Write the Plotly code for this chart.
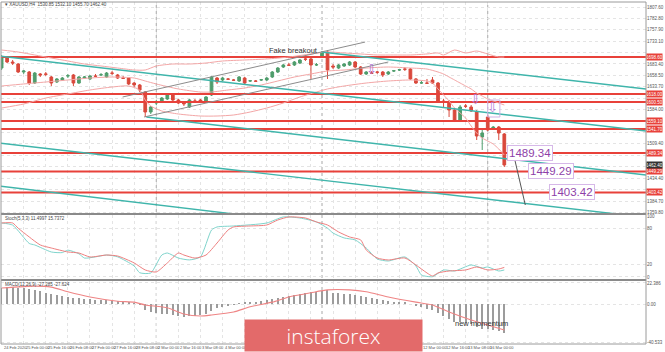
import plotly.graph_objects as go

# ---------------- DATA ----------------
bars = list(range(92))
opens = [1674.6, 1696.4, 1687.7, 1683.3, 1665.9, 1665.9, 1641.9, 1661.6, 1661.6, 1655.0,
         1644.1, 1648.5, 1657.2, 1659.4, 1641.9, 1652.8, 1650.7, 1657.2, 1659.4, 1655.0,
         1663.7, 1659.4, 1652.8, 1652.8, 1641.9, 1637.6, 1622.3, 1578.7, 1598.3, 1600.5,
         1607.1, 1618.0, 1604.9, 1600.5, 1589.6, 1602.7, 1604.9, 1602.7, 1615.8, 1652.8,
         1648.5, 1650.7, 1648.5, 1646.3, 1652.8, 1646.3, 1646.3, 1648.5, 1648.5, 1655.0,
         1665.9, 1676.8, 1681.2, 1681.2, 1685.5, 1694.3, 1694.3, 1681.2, 1698.6, 1709.5,
         1679.0, 1674.6, 1679.0, 1681.2, 1687.7, 1676.8, 1661.6, 1663.7, 1665.9, 1665.9,
         1661.6, 1668.1, 1670.3, 1672.4, 1672.4, 1650.7, 1641.9, 1641.9, 1648.5, 1641.9,
         1602.7, 1600.5, 1583.1, 1559.1, 1591.8, 1589.6, 1578.7, 1524.2, 1567.8, 1541.7,
         1546.0, 1530.8]
highs = [1703.0, 1700.8, 1692.1, 1685.5, 1670.3, 1668.1, 1665.9, 1663.7, 1665.9, 1657.2,
         1652.8, 1655.0, 1661.6, 1661.6, 1657.2, 1657.2, 1659.4, 1661.6, 1663.7, 1665.9,
         1668.1, 1661.6, 1657.2, 1655.0, 1644.1, 1639.8, 1624.5, 1591.8, 1604.9, 1611.4,
         1620.1, 1620.1, 1607.1, 1602.7, 1607.1, 1607.1, 1607.1, 1613.6, 1657.2, 1655.0,
         1655.0, 1652.8, 1650.7, 1657.2, 1655.0, 1648.5, 1648.5, 1650.7, 1655.0, 1668.1,
         1676.8, 1683.3, 1685.5, 1689.9, 1694.3, 1696.4, 1698.6, 1685.5, 1711.7, 1713.9,
         1683.3, 1683.3, 1685.5, 1689.9, 1689.9, 1679.0, 1668.1, 1668.1, 1668.1, 1668.1,
         1668.1, 1670.3, 1672.4, 1676.8, 1674.6, 1652.8, 1646.3, 1650.7, 1655.0, 1644.1,
         1607.1, 1604.9, 1587.4, 1594.0, 1596.2, 1594.0, 1583.1, 1539.5, 1572.2, 1548.2,
         1548.2, 1532.9]
lows = [1670.3, 1685.5, 1681.2, 1663.7, 1661.6, 1637.6, 1639.8, 1655.0, 1657.2, 1635.4,
        1641.9, 1646.3, 1652.8, 1635.4, 1639.8, 1650.7, 1648.5, 1655.0, 1657.2, 1652.8,
        1659.4, 1650.7, 1650.7, 1637.6, 1633.2, 1622.3, 1567.8, 1574.4, 1594.0, 1598.3,
        1604.9, 1602.7, 1596.2, 1591.8, 1587.4, 1600.5, 1598.3, 1600.5, 1613.6, 1639.8,
        1646.3, 1648.5, 1646.3, 1644.1, 1639.8, 1644.1, 1644.1, 1646.3, 1646.3, 1652.8,
        1663.7, 1674.6, 1679.0, 1679.0, 1683.3, 1689.9, 1650.7, 1679.0, 1696.4, 1650.7,
        1672.4, 1672.4, 1676.8, 1679.0, 1674.6, 1659.4, 1659.4, 1661.6, 1661.6, 1655.0,
        1659.4, 1665.9, 1668.1, 1668.1, 1648.5, 1639.8, 1639.8, 1639.8, 1639.8, 1600.5,
        1587.4, 1567.8, 1556.9, 1556.9, 1587.4, 1578.7, 1517.7, 1495.9, 1537.3, 1539.5,
        1517.7, 1458.8]
closes = [1698.6, 1687.7, 1685.5, 1665.9, 1668.1, 1641.9, 1663.7, 1659.4, 1661.0, 1641.9,
          1650.7, 1652.8, 1657.8, 1641.9, 1655.0, 1655.0, 1657.2, 1656.6, 1660.0, 1663.7,
          1663.1, 1652.8, 1652.2, 1639.8, 1637.6, 1626.7, 1578.7, 1589.6, 1600.5, 1609.2,
          1618.0, 1604.9, 1598.3, 1596.2, 1604.9, 1602.2, 1600.5, 1611.4, 1655.0, 1644.1,
          1652.8, 1650.2, 1648.0, 1655.0, 1641.9, 1646.8, 1645.8, 1649.0, 1652.8, 1665.9,
          1674.6, 1681.2, 1680.6, 1687.7, 1692.1, 1693.7, 1681.2, 1681.8, 1707.4, 1670.3,
          1676.8, 1681.2, 1683.3, 1687.7, 1676.8, 1661.6, 1665.9, 1663.2, 1665.4, 1659.4,
          1665.9, 1668.6, 1670.8, 1672.0, 1650.7, 1641.9, 1642.4, 1641.4, 1641.9, 1602.7,
          1600.5, 1583.1, 1559.1, 1589.6, 1591.3, 1580.9, 1526.4, 1532.9, 1539.5, 1546.0,
          1532.9, 1463.2]

bb_upper_bars = [0, 3, 6, 9, 12, 15, 18, 21, 24, 26, 28, 31, 34, 37, 40, 44, 48, 52, 56, 59,
                 62, 65, 68, 71, 74, 77, 79, 80, 82, 84, 86, 88, 90, 91]
bb_upper = [1713.9, 1709.5, 1703.0, 1696.4, 1689.9, 1683.3, 1679.0, 1674.6, 1670.3, 1670.3,
            1679.0, 1683.3, 1683.3, 1685.5, 1689.9, 1692.1, 1694.3, 1698.6, 1705.2, 1709.5,
            1707.4, 1705.2, 1703.0, 1703.0, 1703.0, 1705.2, 1707.4, 1703.0, 1713.9, 1707.4,
            1711.7, 1705.2, 1698.6, 1698.6]
bb_mid_bars = [0, 4, 8, 12, 16, 20, 24, 26, 28, 32, 36, 38, 41, 44, 47, 50, 53, 56, 59, 62,
               66, 70, 74, 77, 79, 80, 81, 82, 83, 84, 85, 86, 87, 88, 89, 90, 91]
bb_mid = [1635.4, 1639.8, 1644.1, 1648.5, 1652.8, 1655.0, 1652.8, 1646.3, 1639.8, 1628.9,
          1622.3, 1622.3, 1626.7, 1631.0, 1637.6, 1646.3, 1655.0, 1661.6, 1668.1, 1670.3,
          1674.6, 1676.8, 1674.6, 1672.4, 1665.9, 1661.6, 1655.0, 1648.5, 1641.9, 1635.4,
          1628.9, 1620.1, 1613.6, 1607.1, 1602.7, 1598.3, 1594.0]
bb_lower_bars = [0, 4, 8, 12, 16, 20, 23, 25, 26, 27, 29, 32, 36, 39, 42, 45, 48, 51, 54, 57,
                 59, 62, 66, 70, 74, 77, 78, 79, 80, 81, 82, 83, 84, 85, 86, 87, 88, 89, 90, 91]
bb_lower = [1587.4, 1596.2, 1609.2, 1618.0, 1626.7, 1633.2, 1635.4, 1626.7, 1604.9, 1591.8,
            1580.9, 1574.4, 1570.0, 1570.0, 1572.2, 1578.7, 1587.4, 1598.3, 1611.4, 1622.3,
            1628.9, 1635.4, 1641.9, 1646.3, 1648.5, 1646.3, 1641.9, 1628.9, 1615.8, 1602.7,
            1587.4, 1576.6, 1565.6, 1548.2, 1532.9, 1522.0, 1515.5, 1508.9, 1498.1, 1485.0]

stoch_k_bars = [0, 2, 5, 6, 9, 11, 12, 14, 15, 17, 19, 21, 24, 25, 27, 29, 30, 32, 34, 36, 38, 39,
                42, 48, 51, 54, 57, 59, 60, 62, 64, 66, 68, 70, 73, 75, 76, 78, 80, 82, 85, 87,
                88, 90, 91]
stoch_k = [88.5, 85.0, 55.0, 52.5, 41.0, 40.0, 44.0, 38.0, 31.0, 33.0, 36.0, 33.0, 18.0, 7.0,
           6.6, 36.0, 39.3, 31.0, 28.0, 33.0, 77.0, 82.0, 83.6, 88.5, 98.4, 96.7, 90.2, 80.0,
           72.0, 64.0, 60.7, 47.5, 29.5, 26.2, 32.8, 18.0, 3.3, 0.5, 11.5, 9.8, 19.7, 14.8,
           16.4, 9.8, 11.5]
stoch_d_bars = [0, 2, 3, 5, 7, 9, 12, 14, 16, 19, 21, 24, 26, 28, 30, 32, 33, 35, 37, 39, 41, 42,
                45, 48, 50, 52, 55, 57, 59, 61, 63, 65, 66, 68, 70, 73, 75, 77, 78, 79, 81, 84,
                86, 88, 90, 91]
stoch_d = [88.5, 88.5, 80.0, 65.6, 52.5, 47.5, 41.0, 39.3, 32.8, 36.0, 34.4, 23.0, 11.5, 8.2,
           23.0, 39.3, 36.0, 31.0, 36.0, 55.7, 77.0, 82.0, 83.6, 85.2, 93.4, 98.4, 96.7, 90.2,
           85.2, 73.8, 65.6, 60.7, 44.3, 31.1, 27.9, 31.1, 19.7, 6.6, 1.6, 6.6, 9.8, 11.5,
           16.4, 11.5, 13.1, 15.7]

macd_hist = [17, 18, 18, 17.5, 17, 16.5, 15, 13.5, 12, 11, 9.5, 8, 7, 6.5, 6, 5.5, 5, 4.5, 4, 4,
             3.5, 3, 2.5, 2, 1, -0.5, -6, -8.5, -9.5, -10.5, -11, -12, -13, -13.5, -13, -12.5,
             -12, -11, -7, -4.5, -3, -2, -1, 0.5, 1.5, 2, 2.5, 3, 4, 5, 6.5, 7.5, 8.5, 9.5, 11,
             12, 12.5, 13, 14, 14.5, 12, 11.5, 11, 10.5, 10, 8.5, 7, 6, 5, 4, 3, 2.5, 2, 1.5, 0,
             -2, -3.5, -5, -6, -10, -13, -16, -19, -19.5, -20, -21, -25, -26.5, -27, -27.5,
             -28.5, -31]
macd_sig_bars = [0, 6, 9, 12, 16, 21, 24, 26, 30, 33, 36, 38, 42, 45, 49, 52, 56, 59, 63, 66, 70,
                 75, 78, 81, 85, 88, 91]
macd_sig = [17, 19, 18, 13, 7.5, 3, 2, -1, -4, -10.7, -12.8, -11.7, -8.5, -3, 2, 7.5, 12, 15,
            15, 13, 7.5, 2, -1, -8.5, -17, -22.4, -27.7]

red_levels = [1698.6, 1618.0, 1600.5, 1559.1, 1541.7, 1489.34, 1449.29, 1403.42]
current_price = 1462.4
level_labels = ["1489.34", "1449.29", "1403.42"]
level_label_bars = [95.6, 99.4, 103.3]
level_label_prices = [1489.34, 1449.29, 1403.42]

# channel lines: (bar0, price0, bar1, price1)
teal_lines = [(-0.5, 1700.8, 116.7, 1537.3),
              (57.9, 1709.5, 116.7, 1628.9),
              (26.2, 1567.8, 116.7, 1441.4),
              (-0.5, 1511.1, 116.7, 1349.0),
              (-0.5, 1417.4, 50.0, 1345.0)]
grey_lines = [(21.9, 1611.4, 65.8, 1731.2),
              (25.8, 1567.8, 70.0, 1687.7)]
proj_line_bars = [92.7, 94.8]
proj_line_prices = [1485.0, 1376.0]
arrow_bars = [66.9, 85.8, 88.9]
arrow_prices = [1671.5, 1606.0, 1588.5]
arrow_box = (88.0, 1567.8, 90.2, 1604.9)

price_ticks = [1807.6, 1782.8, 1757.9, 1733.1, 1708.2, 1683.4, 1658.5, 1633.7, 1608.8, 1584.0,
               1559.1, 1534.2, 1509.4, 1484.5, 1459.7, 1434.4, 1409.5, 1384.7, 1359.8]
week_separators = [28, 58, 88]
time_tick_bars = list(range(0, 92, 4))
time_tick_text = ["24 Feb 2020", "25 Feb 00:00", "25 Feb 16:00", "26 Feb 08:00", "27 Feb 00:00",
                  "27 Feb 16:00", "28 Feb 08:00", "2 Mar 00:00", "2 Mar 16:00", "3 Mar 08:00",
                  "4 Mar 00:00", "4 Mar 16:00", "5 Mar 08:00", "6 Mar 00:00", "6 Mar 16:00",
                  "9 Mar 08:00", "10 Mar 00:00", "10 Mar 16:00", "11 Mar 08:00", "12 Mar 00:00",
                  "12 Mar 16:00", "13 Mar 08:00", "16 Mar 00:00"]
hidden_time_labels = list(range(11, 19))   # covered by the logo

# ---------------- LAYOUT GEOMETRY ----------------
W, H = 665, 352
PL, PR, PT, PB = 1, 649, 2, 344
BAR_PX = 5.55
x_lo = -0.6 / BAR_PX
x_hi = x_lo + (PR - PL) / BAR_PX
Y_LO, Y_HI = 1356.4, 1818.5
MAIN_TOP, MAIN_BOT = 2, 214


def py(p):  # pixel y -> paper y
    return (PB - p) / (PB - PT)


def pxx(p):  # pixel x -> paper x
    return (p - PL) / (PR - PL)


def price_px(v):  # price -> pixel y of main panel (for label de-cluttering only)
    return MAIN_TOP + (Y_HI - v) / (Y_HI - Y_LO) * (MAIN_BOT - MAIN_TOP)


GREEN = "#4f9d6c"
RED = "#d9493c"
BB = "#f3a6a6"
TEAL = "#3fb5ab"
LEVEL = "#e8413a"
GRID = "#e4e4e4"
FONT = "Liberation Sans"

fig = go.Figure()
common = dict(hoverinfo="skip", showlegend=False)

# red horizontal levels (as traces spanning the full width)
for lv in red_levels:
    fig.add_trace(go.Scatter(x=[x_lo - 1, x_hi + 1], y=[lv, lv], mode="lines",
                             line=dict(color=LEVEL, width=2), xaxis="x", yaxis="y", **common))

# Bollinger bands
for bx, by in [(bb_upper_bars, bb_upper), (bb_mid_bars, bb_mid), (bb_lower_bars, bb_lower)]:
    fig.add_trace(go.Scatter(x=bx, y=by, mode="lines",
                             line=dict(color=BB, width=1, shape="spline", smoothing=0.7),
                             xaxis="x", yaxis="y", **common))

# channel lines
for (b0, p0, b1, p1) in teal_lines:
    fig.add_trace(go.Scatter(x=[b0, b1], y=[p0, p1], mode="lines",
                             line=dict(color=TEAL, width=1.4), xaxis="x", yaxis="y", **common))
for (b0, p0, b1, p1) in grey_lines:
    fig.add_trace(go.Scatter(x=[b0, b1], y=[p0, p1], mode="lines",
                             line=dict(color="#8c8c8c", width=1), xaxis="x", yaxis="y", **common))

# candles
fig.add_trace(go.Candlestick(x=bars, open=opens, high=highs, low=lows, close=closes,
                             increasing=dict(line=dict(color=GREEN, width=1), fillcolor=GREEN),
                             decreasing=dict(line=dict(color=RED, width=1), fillcolor=RED),
                             whiskerwidth=0, xaxis="x", yaxis="y", **common))

fig.add_trace(go.Scatter(x=proj_line_bars, y=proj_line_prices, mode="lines",
                         line=dict(color="#555555", width=1), xaxis="x", yaxis="y", **common))

# stochastic
fig.add_trace(go.Scatter(x=stoch_k_bars, y=stoch_k, mode="lines",
                         line=dict(color="#7fd4cc", width=1, shape="spline", smoothing=0.6),
                         xaxis="x2", yaxis="y2", **common))
fig.add_trace(go.Scatter(x=stoch_d_bars, y=stoch_d, mode="lines",
                         line=dict(color="#ee8080", width=1, shape="spline", smoothing=0.6),
                         xaxis="x2", yaxis="y2", **common))

# MACD
fig.add_trace(go.Bar(x=bars, y=macd_hist, width=0.22, marker=dict(color="#9c9c9c", line=dict(width=0)),
                     xaxis="x3", yaxis="y3", **common))
fig.add_trace(go.Scatter(x=macd_sig_bars, y=macd_sig, mode="lines",
                         line=dict(color="#ef8585", width=1.1, shape="spline", smoothing=0.6),
                         xaxis="x3", yaxis="y3", **common))

shapes = []
for ws in week_separators:
    shapes.append(dict(type="line", xref="x", yref="paper", x0=ws, x1=ws, y0=0, y1=1,
                       line=dict(color="#a8a8a8", width=1, dash="dot"), layer="below"))
# arrow box
shapes.append(dict(type="rect", xref="x", yref="y", x0=arrow_box[0], x1=arrow_box[2],
                   y0=arrow_box[1], y1=arrow_box[3], line=dict(color="#cfb3e6", width=1)))
# panel separators & frame
for yy in [214, 280]:
    shapes.append(dict(type="line", xref="paper", yref="paper", x0=0, x1=1, y0=py(yy), y1=py(yy),
                       line=dict(color="#8a8a8a", width=2)))
shapes.append(dict(type="rect", xref="paper", yref="paper", x0=0, x1=1, y0=0, y1=1,
                   line=dict(color="#9a9a9a", width=1)))

ann = []
small = dict(family=FONT, size=4.5, color="#444444")
ann.append(dict(xref="paper", yref="paper", x=pxx(3), y=py(4.5), xanchor="left", yanchor="middle",
                text="▾ XAUUSD,H4  1530.85 1532.10 1455.70 1462.40", showarrow=False, font=small))
ann.append(dict(xref="paper", yref="paper", x=pxx(3), y=py(218), xanchor="left", yanchor="middle",
                text="Stoch(5,3,3) 11.4997 15.7372", showarrow=False, font=small))
ann.append(dict(xref="paper", yref="paper", x=pxx(3), y=py(284), xanchor="left", yanchor="middle",
                text="MACD(12,26,9) -27.285 -27.624", showarrow=False, font=small))
ann.append(dict(xref="x", yref="y", x=52.9, y=1712.0, text="Fake breakout", showarrow=False,
                font=dict(family=FONT, size=7.5, color="#333333")))
ann.append(dict(xref="x", yref="y3", x=86.9, y=-20.5, text="new momentum", showarrow=False,
                font=dict(family=FONT, size=7.5, color="#333333")))
for t, b, p in zip(level_labels, level_label_bars, level_label_prices):
    ann.append(dict(xref="x", yref="y", x=b, y=p, text=t, showarrow=False,
                    font=dict(family=FONT, size=11.5, color="#8e3fa8"),
                    bgcolor="white", bordercolor="#d6b8e8", borderwidth=1, borderpad=1))
for b, p in zip(arrow_bars, arrow_prices):
    ann.append(dict(xref="x", yref="y", x=b, y=p, text="⇩", showarrow=False,
                    font=dict(family="DejaVu Sans", size=13, color="#b074d4")))
box_prices = red_levels + [current_price]
box_colors = [LEVEL] * len(red_levels) + ["#333333"]
for lv, col in zip(box_prices, box_colors):
    ann.append(dict(xref="paper", yref="y", x=1.0, y=lv, xanchor="left", yanchor="middle",
                    text=f"{lv:.2f}", showarrow=False, width=15, height=6, borderpad=0,
                    bgcolor=col, font=dict(family=FONT, size=4.5, color="white")))
for i, (b, t) in enumerate(zip(time_tick_bars, time_tick_text)):
    if i in hidden_time_labels:
        continue
    ann.append(dict(xref="x", yref="paper", x=b, y=py(347.5), xanchor="left", yanchor="middle",
                    text=t, showarrow=False, font=dict(family=FONT, size=4, color="#555555")))
# logo badge
ann.append(dict(xref="paper", yref="paper", x=pxx(245), y=py(352), xanchor="left", yanchor="bottom",
                width=177, height=31, borderpad=0, bgcolor="#e36a6a", text="instaforex",
                showarrow=False, font=dict(family="Open Sans", size=21, color="white", weight=300)))

# axis price labels hidden behind the coloured price boxes (as in the terminal)
tick_text = []
for v in price_ticks:
    covered = any(abs(price_px(v) - price_px(b)) < 6 for b in box_prices)
    tick_text.append("" if covered else f"{v:.2f}")

xcommon = dict(range=[x_lo, x_hi], showticklabels=False, tickvals=time_tick_bars, ticks="",
               showgrid=True, gridcolor=GRID, griddash="dot", gridwidth=1, zeroline=False,
               rangeslider=dict(visible=False), fixedrange=True)
ycommon = dict(side="right", ticks="", showgrid=True, gridcolor=GRID, griddash="dot",
               zeroline=False, tickfont=dict(family=FONT, size=4.5, color="#555555"),
               fixedrange=True)

fig.update_layout(
    width=W, height=H, autosize=False,
    margin=dict(l=PL, r=W - PR, t=PT, b=H - PB),
    paper_bgcolor="white", plot_bgcolor="white",
    showlegend=False, bargap=0,
    xaxis=dict(domain=[0, 1], anchor="y", **xcommon),
    xaxis2=dict(domain=[0, 1], anchor="y2", matches="x", **xcommon),
    xaxis3=dict(domain=[0, 1], anchor="y3", matches="x", **xcommon),
    yaxis=dict(domain=[py(MAIN_BOT), 1], anchor="x", range=[Y_LO, Y_HI],
               tickvals=price_ticks, ticktext=tick_text, **ycommon),
    yaxis2=dict(domain=[py(279), py(215)], anchor="x2", range=[-3.3, 101.6],
                tickvals=[0, 20, 80, 100], ticktext=["0", "20", "80", "100"], **ycommon),
    yaxis3=dict(domain=[0, py(281)], anchor="x3", range=[-42.6, 24.5],
                tickvals=[22.386, 0, -40.533], ticktext=["22.386", "0.00", "-40.533"], **ycommon),
    shapes=shapes, annotations=ann,
)

fig.write_html("out.html")
